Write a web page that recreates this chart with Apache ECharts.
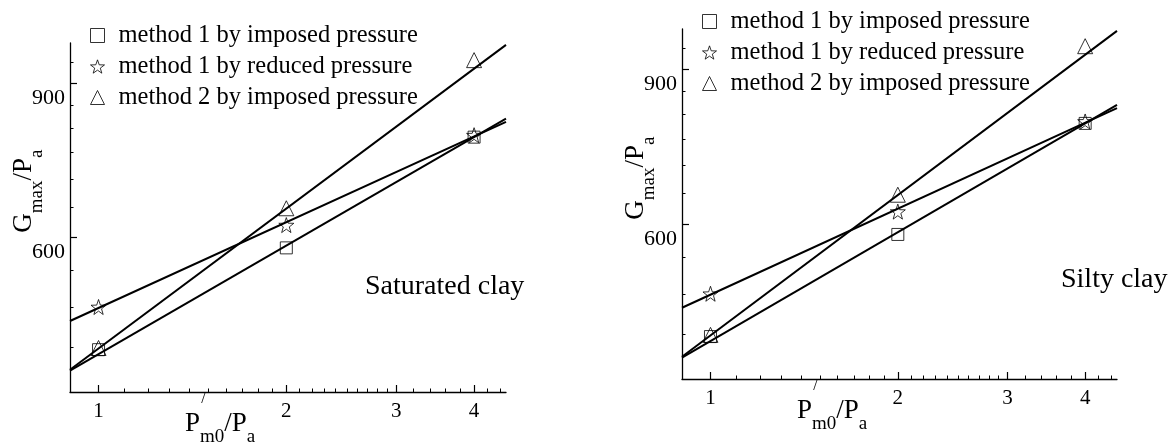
<!DOCTYPE html>
<html>
<head>
<meta charset="utf-8">
<script src="https://cdn.jsdelivr.net/npm/echarts@6/dist/echarts.min.js"></script>
<style>
  html, body { margin: 0; padding: 0; background: #fff; }
  #chart { width: 1173px; height: 444px; }
</style>
</head>
<body>
<div id="chart"></div>
<script>
// measured points, P'm0/Pa on x, Gmax/Pa on y
const pressure = [1, 2, 4];
const imposed1 = [447, 584, 781];
const reduced1 = [500, 620, 785];
const imposed2 = [449, 648, 956];

// fitted lines, read where they meet the ends of the x axis
const fitEnds = [0.9, 4.5];
const imposed1Fit = [423, 820];
const reduced1Fit = [482, 813];
const imposed2Fit = [424, 995];

const xMajor = [1, 2, 3, 4];
const xMinor = [1.1, 1.2, 1.3, 1.4, 1.5, 1.6, 1.7, 1.8, 1.9,
  2.1, 2.2, 2.3, 2.4, 2.5, 2.6, 2.7, 2.8, 2.9,
  3.2, 3.4, 3.6, 3.8,
  4.2, 4.4];
const yMajor = [600, 900];
const yMinor = [450, 500, 550, 650, 700, 750, 800, 850, 950];

const names = ['method 1 by imposed pressure', 'method 1 by reduced pressure', 'method 2 by imposed pressure'];
const soils = ['Saturated clay', 'Silty clay'];

const serif = "'Liberation Serif', 'DejaVu Serif', serif";
const starPath = 'path://M50 0L61.76 33.82L97.55 34.55L69.02 56.18L79.39 90.45L50 70L20.61 90.45L30.98 56.18L2.45 34.55L38.24 33.82Z';
const symbols = ['rect', starPath, 'triangle'];
const symbolSizes = [12, 15, 15];
const points = [imposed1, reduced1, imposed2];
const fits = [imposed1Fit, reduced1Fit, imposed2Fit];

// panel boxes
const panels = [
  { left: 70, top: 43, width: 436, height: 349, noteX: 365, noteY: 287 },
  { left: 682, top: 29, width: 435, height: 350, noteX: 1061, noteY: 280 }
];

let myChart = echarts.init(document.getElementById('chart'));

let grids = [], xAxes = [], yAxes = [], series = [], legends = [], graphics = [];

panels.forEach(function (p, i) {
  grids.push({ left: p.left, top: p.top, width: p.width, height: p.height, containLabel: false, outerBoundsMode: 'none' });

  xAxes.push({
    type: 'log', gridIndex: i, position: 'bottom', min: 0.9, max: 4.5,
    axisLine: { show: true, onZero: false, lineStyle: { color: '#000', width: 1.3 } },
    axisTick: { show: true, inside: true, length: 7, customValues: xMajor, lineStyle: { color: '#000', width: 1.2 } },
    axisLabel: { show: true, customValues: xMajor, margin: 8, lineHeight: 22, fontSize: 21, fontFamily: serif, color: '#000' },
    splitLine: { show: false }
  }, {
    type: 'log', gridIndex: i, position: 'bottom', offset: 0, min: 0.9, max: 4.5,
    axisLine: { show: false, onZero: false },
    axisTick: { show: true, inside: true, length: 3.5, customValues: xMinor, lineStyle: { color: '#000', width: 1 } },
    axisLabel: { show: false },
    splitLine: { show: false }
  });

  yAxes.push({
    type: 'log', gridIndex: i, position: 'left', min: 400, max: 1000,
    axisLine: { show: true, onZero: false, lineStyle: { color: '#000', width: 1.3 } },
    axisTick: { show: true, inside: true, length: 7, customValues: yMajor, lineStyle: { color: '#000', width: 1.2 } },
    axisLabel: { show: true, customValues: yMajor, margin: 5, verticalAlign: 'top', lineHeight: 30, fontSize: 22, fontFamily: serif, color: '#000' },
    splitLine: { show: false }
  }, {
    type: 'log', gridIndex: i, position: 'left', offset: 0, min: 400, max: 1000,
    axisLine: { show: false, onZero: false },
    axisTick: { show: true, inside: true, length: 3.5, customValues: yMinor, lineStyle: { color: '#000', width: 1 } },
    axisLabel: { show: false },
    splitLine: { show: false }
  });

  names.forEach(function (name, k) {
    series.push({
      type: 'scatter', name: name, xAxisIndex: 2 * i, yAxisIndex: 2 * i,
      symbol: symbols[k], symbolSize: symbolSizes[k], z: 3, silent: true,
      itemStyle: { color: 'rgba(0,0,0,0)', borderColor: '#000', borderWidth: 1 },
      data: pressure.map(function (x, j) { return [x, points[k][j]]; })
    });
  });
  fits.forEach(function (f) {
    series.push({
      type: 'line', xAxisIndex: 2 * i, yAxisIndex: 2 * i, symbol: 'none', silent: true, z: 2,
      lineStyle: { color: '#000', width: 2 },
      data: fitEnds.map(function (x, j) { return [x, f[j]]; })
    });
  });

  legends.push({
    orient: 'vertical', left: p.left + 15, top: p.top - 25,
    data: names, selectedMode: false,
    itemWidth: 14, itemHeight: 14, itemGap: 6,
    itemStyle: { color: 'rgba(0,0,0,0)', borderColor: '#000', borderWidth: 1 },
    textStyle: { fontSize: 24.5, fontFamily: serif, color: '#000', padding: [0, 0, 0, 9] }
  });

  // axis titles and soil label
  graphics.push({
    type: 'text', x: p.left - 59.5, y: p.top + p.height - 159.3, rotation: Math.PI / 2,
    style: {
      text: '{m|G}{s|max}{m|/P}{s|a}', align: 'left', verticalAlign: 'top',
      rich: {
        m: { fontSize: 27, fontFamily: serif, fill: '#000', lineHeight: 27, verticalAlign: 'top' },
        s: { fontSize: 19, fontFamily: serif, fill: '#000', lineHeight: 54 }
      }
    }
  }, {
    type: 'text', x: p.left + 115, y: p.top + p.height + 18,
    style: {
      text: '{m|P}{s|m0}{m|/P}{s|a}', align: 'left', verticalAlign: 'top',
      rich: {
        m: { fontSize: 27, fontFamily: serif, fill: '#000', lineHeight: 26, verticalAlign: 'top' },
        s: { fontSize: 19, fontFamily: serif, fill: '#000', lineHeight: 54 }
      }
    }
  }, {
    type: 'text', x: p.left + 133.5, y: p.top + p.height + 7,
    style: { text: '/', fontSize: 16, fontFamily: serif, fill: '#000', align: 'center', verticalAlign: 'middle' }
  }, {
    type: 'text', x: p.noteX, y: p.noteY,
    style: { text: soils[i], fontSize: 28, fontFamily: serif, fill: '#000', align: 'left', verticalAlign: 'middle' }
  });
});

let option = {
  backgroundColor: '#fff',
  animation: false,
  grid: grids,
  xAxis: xAxes,
  yAxis: yAxes,
  legend: legends,
  graphic: graphics,
  series: series
};
myChart.setOption(option);
</script>
</body>
</html>
